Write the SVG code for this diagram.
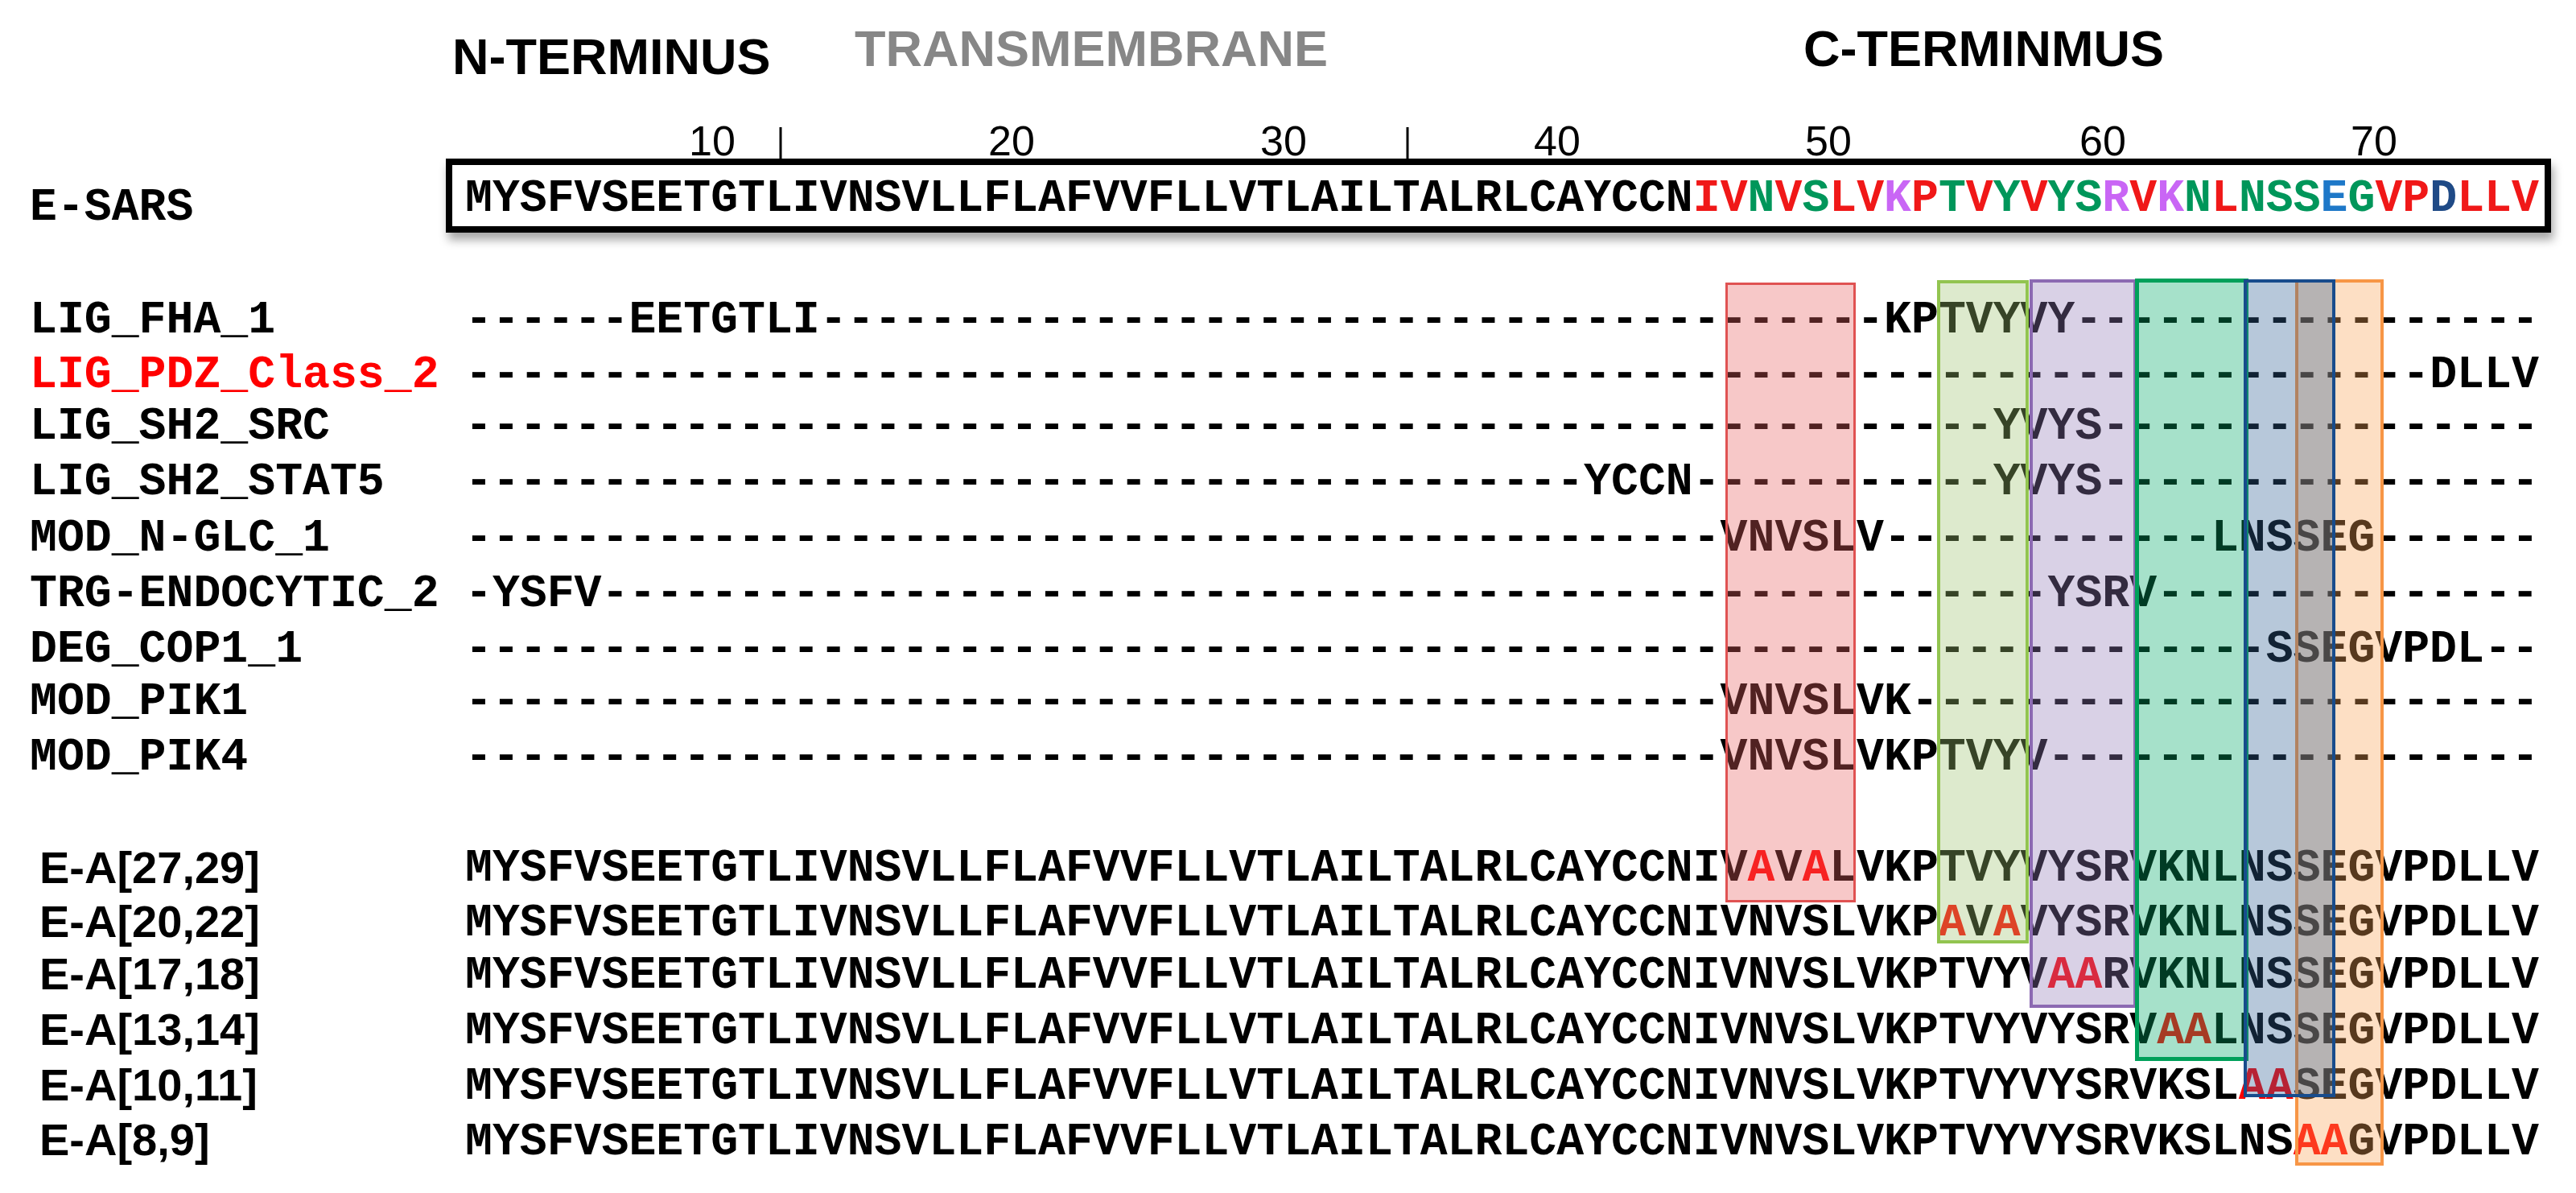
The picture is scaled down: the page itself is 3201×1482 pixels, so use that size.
<svg xmlns="http://www.w3.org/2000/svg" width="3201" height="1482" viewBox="0 0 3201 1482">
<defs>
<style>
.hd{font-family:"Liberation Sans",Arial,sans-serif;font-weight:bold;font-size:63px;}
.num{font-family:"Liberation Sans",Arial,sans-serif;font-size:52px;text-anchor:middle;fill:#000;}
.mono{font-family:"Liberation Mono","Courier New",monospace;font-weight:bold;font-size:56.5px;fill:#000;}
.ea{font-family:"Liberation Sans",Arial,sans-serif;font-weight:bold;font-size:56px;fill:#000;}
.r{fill:#f01818;}
.g{fill:#00965a;}
.v{fill:#c966f5;}
.b{fill:#1e78c8;}
.n{fill:#1f4a86;}
.mut{fill:#ff0000;}
.hl{fill-opacity:0.35;}
</style>
<filter id="shadow" x="-3%" y="-40%" width="106%" height="200%">
<feDropShadow dx="3" dy="9" stdDeviation="6" flood-color="#000" flood-opacity="0.35"/>
</filter>
</defs>
<rect width="3201" height="1482" fill="#fff"/>

<g id="headers">
<text class="hd" x="562" y="92" fill="#000">N-TERMINUS</text>
<text class="hd" x="1062" y="82" fill="#878787">TRANSMEMBRANE</text>
<text class="hd" x="2241" y="82" fill="#000">C-TERMINMUS</text>
</g>

<g id="ruler">
<text class="num" x="885" y="193">10</text>
<text class="num" x="1257" y="193">20</text>
<text class="num" x="1595" y="193">30</text>
<text class="num" x="1935" y="193">40</text>
<text class="num" x="2272" y="193">50</text>
<text class="num" x="2613" y="193">60</text>
<text class="num" x="2950" y="193">70</text>
<line x1="970" y1="158" x2="970" y2="198" stroke="#000" stroke-width="3"/>
<line x1="1749" y1="158" x2="1749" y2="198" stroke="#000" stroke-width="3"/>
</g>

<g id="e-sars">
<rect x="558" y="201" width="2608" height="84" fill="#fff" stroke="#000" stroke-width="8" filter="url(#shadow)"/>
<text class="mono" x="37" y="273">E-SARS</text>
<text class="mono" x="578" y="262">MYSFVSEETGTLIVNSVLLFLAFVVFLLVTLAILTALRLCAYCCN<tspan class="r">IV</tspan><tspan class="g">N</tspan><tspan class="r">V</tspan><tspan class="g">S</tspan><tspan class="r">LV</tspan><tspan class="v">K</tspan><tspan class="r">P</tspan><tspan class="g">T</tspan><tspan class="r">V</tspan><tspan class="g">Y</tspan><tspan class="r">V</tspan><tspan class="g">YS</tspan><tspan class="v">R</tspan><tspan class="r">V</tspan><tspan class="v">K</tspan><tspan class="g">N</tspan><tspan class="r">L</tspan><tspan class="g">NSS</tspan><tspan class="b">E</tspan><tspan class="g">G</tspan><tspan class="r">VP</tspan><tspan class="n">D</tspan><tspan class="r">LLV</tspan></text>
</g>

<g id="motif-lig-fha-1">
<text class="mono" x="37" y="413">LIG_FHA_1</text>
<text class="mono" y="413"><tspan x="578">------</tspan><tspan x="781.4">EETGTLI</tspan><tspan x="1018.8">---------------------------------------</tspan><tspan x="2341.1">KPTVYVY</tspan><tspan x="2578.4">-----------------</tspan></text>
</g>
<g id="motif-lig-pdz-class-2">
<text class="mono" x="37" y="481" fill="#ff0000" style="fill:#ff0000">LIG_PDZ_Class_2</text>
<text class="mono" y="481"><tspan x="578">------------------------------------------------------------------------</tspan><tspan x="3019.2">DLLV</tspan></text>
</g>
<g id="motif-lig-sh2-src">
<text class="mono" x="37" y="545">LIG_SH2_SRC</text>
<text class="mono" y="545"><tspan x="578">--------------------------------------------------------</tspan><tspan x="2476.7">YVYS</tspan><tspan x="2612.3">----------------</tspan></text>
</g>
<g id="motif-lig-sh2-stat5">
<text class="mono" x="37" y="614">LIG_SH2_STAT5</text>
<text class="mono" y="614"><tspan x="578">-----------------------------------------</tspan><tspan x="1968.1">YCCN</tspan><tspan x="2103.7">-----------</tspan><tspan x="2476.7">YVYS</tspan><tspan x="2612.3">----------------</tspan></text>
</g>
<g id="motif-mod-n-glc-1">
<text class="mono" x="37" y="684">MOD_N-GLC_1</text>
<text class="mono" y="684"><tspan x="578">----------------------------------------------</tspan><tspan x="2137.6">VNVSLV</tspan><tspan x="2341.1">------------</tspan><tspan x="2747.9">LNSSEG</tspan><tspan x="2951.4">------</tspan></text>
</g>
<g id="motif-trg-endocytic-2">
<text class="mono" x="37" y="753">TRG-ENDOCYTIC_2</text>
<text class="mono" y="753"><tspan x="578">-YSFV</tspan><tspan x="747.5">-----------------------------------------------------</tspan><tspan x="2544.5">YSRV</tspan><tspan x="2680.1">--------------</tspan></text>
</g>
<g id="motif-deg-cop1-1">
<text class="mono" x="37" y="822">DEG_COP1_1</text>
<text class="mono" y="822"><tspan x="578">------------------------------------------------------------------</tspan><tspan x="2815.7">SSEGVPDL</tspan><tspan x="3087">--</tspan></text>
</g>
<g id="motif-mod-pik1">
<text class="mono" x="37" y="887">MOD_PIK1</text>
<text class="mono" y="887"><tspan x="578">----------------------------------------------</tspan><tspan x="2137.6">VNVSLVK</tspan><tspan x="2375">-----------------------</tspan></text>
</g>
<g id="motif-mod-pik4">
<text class="mono" x="37" y="956">MOD_PIK4</text>
<text class="mono" y="956"><tspan x="578">----------------------------------------------</tspan><tspan x="2137.6">VNVSLVKPTVYV</tspan><tspan x="2544.5">------------------</tspan></text>
</g>

<g id="mutant-e-a-27-29">
<text class="ea" x="49" y="1097">E-A[27,29]</text>
<text class="mono" x="578" y="1094">MYSFVSEETGTLIVNSVLLFLAFVVFLLVTLAILTALRLCAYCCNIV<tspan class="mut">A</tspan>V<tspan class="mut">A</tspan>LVKPTVYVYSRVKNLNSSEGVPDLLV</text>
</g>
<g id="mutant-e-a-20-22">
<text class="ea" x="49" y="1164">E-A[20,22]</text>
<text class="mono" x="578" y="1162">MYSFVSEETGTLIVNSVLLFLAFVVFLLVTLAILTALRLCAYCCNIVNVSLVKP<tspan class="mut">A</tspan>V<tspan class="mut">A</tspan>VYSRVKNLNSSEGVPDLLV</text>
</g>
<g id="mutant-e-a-17-18">
<text class="ea" x="49" y="1229">E-A[17,18]</text>
<text class="mono" x="578" y="1227">MYSFVSEETGTLIVNSVLLFLAFVVFLLVTLAILTALRLCAYCCNIVNVSLVKPTVYV<tspan class="mut">AA</tspan>RVKNLNSSEGVPDLLV</text>
</g>
<g id="mutant-e-a-13-14">
<text class="ea" x="49" y="1298">E-A[13,14]</text>
<text class="mono" x="578" y="1296">MYSFVSEETGTLIVNSVLLFLAFVVFLLVTLAILTALRLCAYCCNIVNVSLVKPTVYVYSRV<tspan class="mut">AA</tspan>LNSSEGVPDLLV</text>
</g>
<g id="mutant-e-a-10-11">
<text class="ea" x="49" y="1367">E-A[10,11]</text>
<text class="mono" x="578" y="1365">MYSFVSEETGTLIVNSVLLFLAFVVFLLVTLAILTALRLCAYCCNIVNVSLVKPTVYVYSRVKSL<tspan class="mut">AA</tspan>SEGVPDLLV</text>
</g>
<g id="mutant-e-a-8-9">
<text class="ea" x="49" y="1435">E-A[8,9]</text>
<text class="mono" x="578" y="1434">MYSFVSEETGTLIVNSVLLFLAFVVFLLVTLAILTALRLCAYCCNIVNVSLVKPTVYVYSRVKSLNS<tspan class="mut">AA</tspan>GVPDLLV</text>
</g>

<g id="highlights">
<rect class="hl" x="2145.5" y="352.5" width="159" height="767" fill="#e86262" stroke="#e05252" stroke-width="3"/>
<rect class="hl" x="2409" y="350" width="110" height="820" fill="#9ec370" stroke="#92c450" stroke-width="4"/>
<rect class="hl" x="2524" y="349" width="129" height="901" fill="#927cb8" stroke="#8c6ab2" stroke-width="4"/>
<rect class="hl" x="2655.5" y="348.5" width="136" height="967" fill="#00a968" stroke="#00a05a" stroke-width="5"/>
<rect class="hl" x="2854" y="349" width="106" height="1097" fill="#f9a456" stroke="#f79646" stroke-width="4"/>
<rect class="hl" x="2790" y="349" width="110" height="1012" fill="#316295" stroke="#184c8c" stroke-width="4"/>
</g>
</svg>
